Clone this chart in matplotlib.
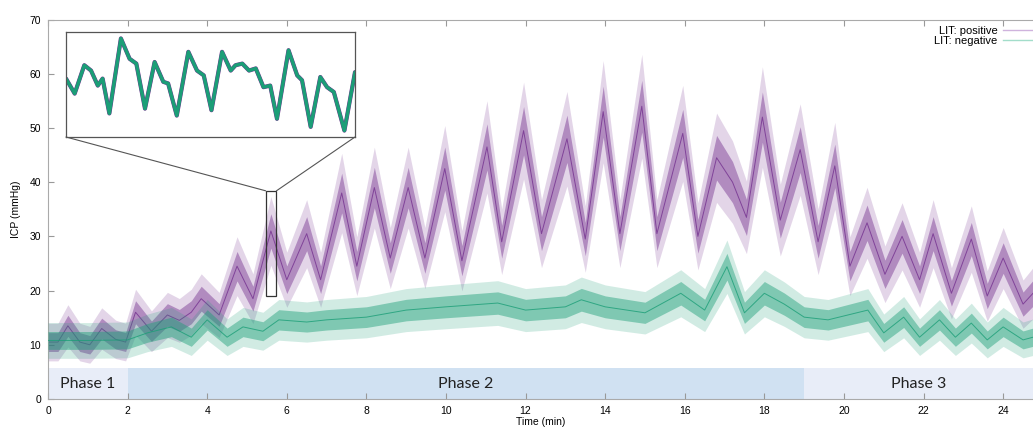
import matplotlib
matplotlib.use('Agg')
import matplotlib.pyplot as plt
import numpy as np
from matplotlib.lines import Line2D
from matplotlib.patches import Rectangle, ConnectionPatch

# slow-wave centre of each trace (time in min, ICP in mmHg)
pos_t = [0, 0.25, 0.5, 0.8, 1.05, 1.35, 1.7, 1.95, 2.2, 2.6, 3.0, 3.3, 3.6, 3.85,
         4.3, 4.75, 5.15, 5.6, 6.0, 6.5, 6.85, 7.38, 7.76, 8.2, 8.6, 9.05, 9.47,
         9.97, 10.4, 11.03, 11.4, 11.95, 12.4, 13.04, 13.5, 13.95, 14.37, 14.92,
         15.3, 15.95, 16.33, 16.8, 17.2, 17.55, 17.95, 18.4, 18.9, 19.35, 19.77,
         20.15, 20.58, 21.03, 21.46, 21.9, 22.24, 22.7, 23.2, 23.6, 24.0, 24.5, 24.75]
pos_v = [10.5, 10.5, 13.5, 10.5, 10, 13, 11, 10.5, 16, 12.5, 15.5, 14.5, 16, 18.5,
         15.5, 24.5, 18.5, 31, 22, 30.5, 22, 38, 24.5, 39, 26, 39, 26,
         42.5, 25.5, 46.5, 29, 49.5, 30.5, 48, 29.5, 53, 30.5, 54,
         30.5, 49, 30, 44.5, 40, 33.5, 52, 33, 46, 29, 43,
         24.5, 32.5, 23, 30, 22, 30.5, 19.5, 29.5, 19, 26, 17.5, 19.5]

neg_t = [0, 1.0, 2.0, 2.5, 3.1, 3.6, 4.0, 4.5, 4.9, 5.4, 5.8, 6.5, 7.0, 8.0, 9.0,
         10.0, 11.3, 12.0, 13.0, 13.4, 14.0, 15.0, 15.9, 16.5, 17.06, 17.5, 18.0,
         18.5, 19.0, 19.6, 20.6, 21.0, 21.5, 21.9, 22.4, 22.8, 23.2, 23.6, 24.0,
         24.5, 24.75]
neg_v = [10.8, 10.8, 10.9, 12.2, 13.3, 11.4, 14.6, 11.4, 13.3, 12.5, 14.6, 14.2,
         14.6, 15.1, 16.4, 17.0, 17.7, 16.4, 17.0, 18.3, 17.0, 15.9, 19.5, 16.4,
         24.4, 15.9, 19.5, 17.5, 15.1, 14.6, 16.4, 12.2, 15.1, 11.4, 14.6, 11.4,
         14.0, 10.9, 13.3, 10.9, 11.4]

# zoomed excerpt shown in the inset
zoom_t = [5.450, 5.459, 5.469, 5.476, 5.483, 5.488, 5.495, 5.507, 5.516, 5.523,
          5.532, 5.542, 5.551, 5.556, 5.565, 5.577, 5.586, 5.593, 5.601, 5.612,
          5.621, 5.626, 5.633, 5.640, 5.647, 5.655, 5.662, 5.669, 5.681, 5.690,
          5.695, 5.704, 5.714, 5.721, 5.728, 5.739, 5.750]
zoom_v = [29.9, 27.1, 32.4, 31.4, 28.6, 29.9, 23.4, 37.4, 33.6, 32.7,
          24.3, 33.0, 29.3, 29.0, 23.0, 34.9, 31.4, 30.5, 24.0, 34.9,
          31.4, 32.4, 32.7, 31.4, 31.8, 28.3, 28.6, 22.4, 35.2, 30.5,
          29.6, 20.9, 30.2, 28.3, 27.4, 20.2, 31.1]

phase_names = ['Phase 1', 'Phase 2', 'Phase 3']
phase_start = [0, 2, 19]
phase_end = [2, 19, 24.75]
phase_colors = ['#e8edf8', '#d0e1f2', '#e8edf8']

PURPLE = '#74318f'
GREEN = '#1b9e77'

plt.rcParams['font.family'] = ['Liberation Sans', 'DejaVu Sans']

fig = plt.figure(figsize=(10.33, 4.28), dpi=100)
ax = fig.add_axes([48 / 1033, 1 - 399 / 428, 985 / 1033, 379.5 / 428])


def draw_band(t, v, color, k, z):
    v = np.asarray(v, dtype=float)
    s = 1.0 + k * v
    ax.fill_between(t, v - 2.0 * s, v + 2.0 * s, color=color, alpha=0.2, lw=0, zorder=z)
    ax.fill_between(t, v - s, v + s, color=color, alpha=0.45, lw=0, zorder=z)
    ax.plot(t, v, color=color, lw=0.7, alpha=0.8, zorder=z)


draw_band(pos_t, pos_v, PURPLE, 0.07, 2)
draw_band(neg_t, neg_v, GREEN, 0.06, 3)

# phase bands
for name, a, b, c in zip(phase_names, phase_start, phase_end, phase_colors):
    ax.broken_barh([(a, b - a)], (0, 5.8), facecolors=c, zorder=1)
    ax.text((a + b) / 2, 2.8, name, ha='center', va='center', fontsize=11.5,
            family=['Lato', 'DejaVu Sans'], color='#222222', zorder=4)

ax.set_xlim(0, 24.75)
ax.set_ylim(0, 70)
ax.set_xticks(range(0, 25, 2))
ax.set_yticks(range(0, 71, 10))
ax.tick_params(direction='in', length=4, color='#999999', labelsize=7.5,
               top=True, right=False, pad=5)
for side in ['left', 'top', 'bottom']:
    ax.spines[side].set_color('#aaaaaa')
    ax.spines[side].set_linewidth(0.8)
ax.spines['right'].set_visible(False)
ax.set_xlabel('Time (min)', fontsize=7.5, labelpad=1)
ax.set_ylabel('ICP (mmHg)', fontsize=7.5, labelpad=6)

# legend
handles = [Line2D([], [], color='#cfb3dd', lw=1),
           Line2D([], [], color='#a3ddca', lw=1)]
ax.legend(handles, ['LIT: positive', 'LIT: negative'], loc='upper right',
          bbox_to_anchor=(1.01, 1.0), frameon=False, markerfirst=False,
          fontsize=8, handlelength=3.0, handletextpad=0.5, labelspacing=0.0,
          borderaxespad=0.2)

# inset zoom
z_x0, z_x1, z_y0, z_y1 = 5.47, 5.74, 19.0, 38.4
axins = ax.inset_axes([18 / 985, 262 / 379.5, 289 / 985, 105 / 379.5])
axins.plot(zoom_t, zoom_v, color=PURPLE, lw=3.0, solid_joinstyle='round',
           solid_capstyle='round')
axins.plot(zoom_t, zoom_v, color=GREEN, lw=2.5, solid_joinstyle='round',
           solid_capstyle='round')
axins.set_xlim(5.45, 5.75)
axins.set_ylim(19.0, 38.6)
axins.set_xticks([])
axins.set_yticks([])
for sp in axins.spines.values():
    sp.set_color('#555555')
    sp.set_linewidth(0.9)

ax.add_patch(Rectangle((z_x0, z_y0), z_x1 - z_x0, z_y1 - z_y0, fill=False,
                       ec='#333333', lw=0.9, zorder=5))
for fx, dx in [(0, z_x0), (1, z_x1)]:
    con = ConnectionPatch(xyA=(fx, 0), coordsA=axins.transAxes,
                          xyB=(dx, z_y1), coordsB=ax.transData,
                          color='#555555', lw=0.8)
    fig.add_artist(con)

fig.savefig('out.png', dpi=100)
